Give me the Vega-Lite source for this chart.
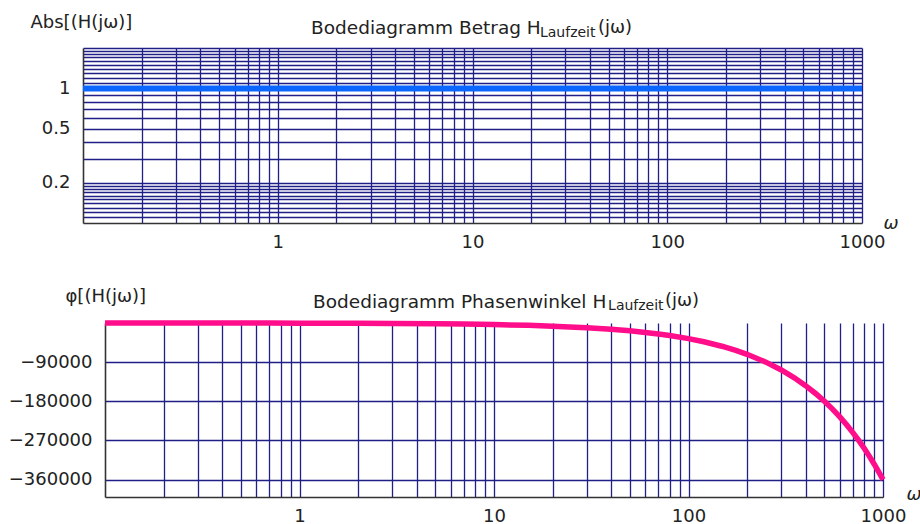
{
  "$schema": "https://vega.github.io/schema/vega-lite/v6.json",
  "background": "white",
  "padding": {"left": 8, "top": 13, "right": 0, "bottom": 0},
  "spacing": 36,
  "config": {
    "font": "DejaVu Sans",
    "view": {"stroke": null},
    "axis": {
      "domainColor": "#333333",
      "domainWidth": 1.6,
      "gridColor": "#1f1f87",
      "gridWidth": 1.3,
      "gridOpacity": 1,
      "ticks": false,
      "labelFont": "DejaVu Sans",
      "labelFontSize": 18,
      "labelColor": "#222222",
      "labelOverlap": false,
      "labelFlush": false,
      "labelBound": false,
      "titleFont": "DejaVu Sans",
      "titleFontSize": 18,
      "titleFontWeight": "normal",
      "titleColor": "#222222"
    },
    "title": {"font": "DejaVu Sans", "fontSize": 18.5, "fontWeight": "normal", "color": "#222222"}
  },
  "datasets": {
    "bode": [
      {"omega": 0.1, "abs": 1, "phase": -36},
      {"omega": 0.15, "abs": 1, "phase": -54},
      {"omega": 0.2, "abs": 1, "phase": -72},
      {"omega": 0.3, "abs": 1, "phase": -108},
      {"omega": 0.5, "abs": 1, "phase": -180},
      {"omega": 0.7, "abs": 1, "phase": -252},
      {"omega": 1, "abs": 1, "phase": -360},
      {"omega": 1.5, "abs": 1, "phase": -540},
      {"omega": 2, "abs": 1, "phase": -720},
      {"omega": 3, "abs": 1, "phase": -1080},
      {"omega": 5, "abs": 1, "phase": -1800},
      {"omega": 7, "abs": 1, "phase": -2520},
      {"omega": 10, "abs": 1, "phase": -3600},
      {"omega": 15, "abs": 1, "phase": -5400},
      {"omega": 20, "abs": 1, "phase": -7200},
      {"omega": 30, "abs": 1, "phase": -10800},
      {"omega": 40, "abs": 1, "phase": -14400},
      {"omega": 50, "abs": 1, "phase": -18000},
      {"omega": 60, "abs": 1, "phase": -21600},
      {"omega": 70, "abs": 1, "phase": -25200},
      {"omega": 80, "abs": 1, "phase": -28800},
      {"omega": 100, "abs": 1, "phase": -36000},
      {"omega": 120, "abs": 1, "phase": -43200},
      {"omega": 150, "abs": 1, "phase": -54000},
      {"omega": 175, "abs": 1, "phase": -63000},
      {"omega": 200, "abs": 1, "phase": -72000},
      {"omega": 250, "abs": 1, "phase": -90000},
      {"omega": 300, "abs": 1, "phase": -108000},
      {"omega": 350, "abs": 1, "phase": -126000},
      {"omega": 400, "abs": 1, "phase": -144000},
      {"omega": 450, "abs": 1, "phase": -162000},
      {"omega": 500, "abs": 1, "phase": -180000},
      {"omega": 550, "abs": 1, "phase": -198000},
      {"omega": 600, "abs": 1, "phase": -216000},
      {"omega": 650, "abs": 1, "phase": -234000},
      {"omega": 700, "abs": 1, "phase": -252000},
      {"omega": 750, "abs": 1, "phase": -270000},
      {"omega": 800, "abs": 1, "phase": -288000},
      {"omega": 850, "abs": 1, "phase": -306000},
      {"omega": 900, "abs": 1, "phase": -324000},
      {"omega": 950, "abs": 1, "phase": -342000},
      {"omega": 1000, "abs": 1, "phase": -360000}
    ]
  },
  "vconcat": [
    {
      "width": 779,
      "height": 175,
      "title": {"text": "Bodediagramm Betrag H", "anchor": "start", "frame": "group", "dx": 228, "offset": -24},
      "layer": [
        {
          "data": {"name": "bode"},
          "mark": {"type": "line", "color": "#0a66ff", "strokeWidth": 6, "strokeCap": "butt"},
          "encoding": {
            "x": {
              "field": "omega", "type": "quantitative",
              "scale": {"type": "log", "domain": [0.1, 1000], "nice": false},
              "axis": {
                "values": [0.2,0.3,0.4,0.5,0.6,0.7,0.8,0.9,1,2,3,4,5,6,7,8,9,10,20,30,40,50,60,70,80,90,100,200,300,400,500,600,700,800,900,1000],
                "grid": true,
                "labelExpr": "datum.value == 1 ? '1' : datum.value == 10 ? '10' : datum.value == 100 ? '100' : datum.value == 1000 ? '1000' : ''",
                "labelPadding": 10,
                "title": "ω",
                "titleFontStyle": "italic",
                "titleX": 800,
                "titleY": 5,
                "titleAlign": "left",
                "titleBaseline": "alphabetic"
              }
            },
            "y": {
              "field": "abs", "type": "quantitative",
              "scale": {"type": "log", "domain": [0.1, 2], "nice": false},
              "axis": {
                "values": [0.11,0.12,0.13,0.14,0.15,0.16,0.17,0.18,0.19,0.2,0.3,0.4,0.5,0.6,0.7,0.8,0.9,1,1.1,1.2,1.3,1.4,1.5,1.6,1.7,1.8,1.9,2],
                "grid": true,
                "labelExpr": "datum.value == 1 ? '1' : datum.value == 0.5 ? '0.5' : datum.value == 0.2 ? '0.2' : ''",
                "labelPadding": 13,
                "minExtent": 30,
                "title": "Abs[(H(jω)]",
                "titleAngle": 0,
                "titleX": -53,
                "titleY": -21,
                "titleAlign": "left",
                "titleBaseline": "alphabetic"
              }
            }
          }
        },
        {
          "data": {"values": [{"t": "Laufzeit"}]},
          "mark": {"type": "text", "align": "left", "baseline": "alphabetic", "fontSize": 14, "dy": -11, "color": "#222222"},
          "encoding": {"text": {"field": "t"}, "x": {"datum": 22.2}, "y": {"datum": 2}}
        },
        {
          "data": {"values": [{"t": "(jω)"}]},
          "mark": {"type": "text", "align": "left", "baseline": "alphabetic", "fontSize": 18, "dy": -15, "color": "#222222"},
          "encoding": {"text": {"field": "t"}, "x": {"datum": 44.1}, "y": {"datum": 2}}
        }
      ]
    },
    {
      "width": 800,
      "height": 174,
      "title": {"text": "Bodediagramm Phasenwinkel H", "anchor": "start", "frame": "group", "dx": 230, "offset": -24},
      "layer": [
        {
          "data": {"name": "bode"},
          "mark": {"type": "line", "color": "#ff0d8a", "strokeWidth": 5.5, "strokeCap": "butt"},
          "encoding": {
            "x": {
              "field": "omega", "type": "quantitative",
              "scale": {"type": "log", "domain": [0.1, 1000], "range": [22, 800], "nice": false},
              "axis": {
                "values": [0.2,0.3,0.4,0.5,0.6,0.7,0.8,0.9,1,2,3,4,5,6,7,8,9,10,20,30,40,50,60,70,80,90,100,200,300,400,500,600,700,800,900,1000],
                "grid": true,
                "labelExpr": "datum.value == 1 ? '1' : datum.value == 10 ? '10' : datum.value == 100 ? '100' : datum.value == 1000 ? '1000' : ''",
                "labelPadding": 10,
                "title": "ω",
                "titleFontStyle": "italic",
                "titleX": 823,
                "titleY": 2,
                "titleAlign": "left",
                "titleBaseline": "alphabetic"
              }
            },
            "y": {
              "field": "phase", "type": "quantitative",
              "scale": {"domain": [-400000, 0], "nice": false, "zero": false},
              "axis": {
                "values": [-360000, -270000, -180000, -90000],
                "grid": false,
                "offset": -22,
                "ticks": true,
                "tickSize": -778,
                "tickColor": "#1f1f87",
                "tickWidth": 1.3,
                "format": "d",
                "labelPadding": 791,
                "minExtent": 30,
                "title": "φ[(H(jω)]",
                "titleAngle": 0,
                "titleX": -40,
                "titleY": -22,
                "titleAlign": "left",
                "titleBaseline": "alphabetic"
              }
            }
          }
        },
        {
          "data": {"values": [{"t": "Laufzeit"}]},
          "mark": {"type": "text", "align": "left", "baseline": "alphabetic", "fontSize": 14, "dy": -13, "color": "#222222"},
          "encoding": {"text": {"field": "t"}, "x": {"datum": 38.6}, "y": {"datum": 0}}
        },
        {
          "data": {"values": [{"t": "(jω)"}]},
          "mark": {"type": "text", "align": "left", "baseline": "alphabetic", "fontSize": 18, "dy": -17, "color": "#222222"},
          "encoding": {"text": {"field": "t"}, "x": {"datum": 75.7}, "y": {"datum": 0}}
        }
      ]
    }
  ]
}
